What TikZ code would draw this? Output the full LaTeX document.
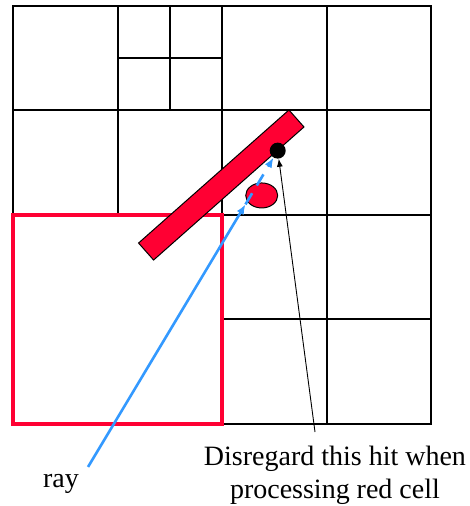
\documentclass[tikz,border=0pt]{standalone}
\usepackage{fontspec}
\setmainfont{Liberation Serif}
\usetikzlibrary{arrows.meta, calc, shapes.geometric}
\definecolor{CellRed}{HTML}{FF0033}
\definecolor{RayBlue}{HTML}{3399FF}

\begin{document}
\begin{tikzpicture}[x=104.5pt, y=104.5pt,
    gridline/.style={line width=2pt, black},
    redcell/.style={line width=3.8pt, CellRed},
    obstacle/.style={draw=black, line width=1pt, fill=CellRed, inner sep=0pt},
    raypath/.style={line width=2.6pt, RayBlue},
    pointer/.style={line width=0.9pt, black, -{Latex[length=8pt, width=6pt]}},
    label/.style={font=\fontsize{28}{33}\selectfont, inner sep=0pt}]
    \useasboundingbox (-0.1244,-0.7847) rectangle (4.3732,4.0574);
    % cells
    \draw[gridline] (0,0) rectangle (4,4);
    \foreach \y in {2,3}
        \draw[gridline] (0,\y) -- (4,\y);
    \draw[gridline] (2,1) -- (4,1);
    \draw[gridline] (1,2) -- (1,4);
    \foreach \x in {2,3}
        \draw[gridline] (\x,0) -- (\x,4);
    \draw[gridline] (1.5,3) -- (1.5,4);
    \draw[gridline] (1,3.5) -- (2,3.5);
    \draw[redcell] (0,0) rectangle (2,2);
    % objects
    \node (bar) [obstacle, rectangle, rotate=41.5, minimum width=200.8pt, minimum height=22.7pt] at (1.993,2.287) {};
    \node (blob) [obstacle, ellipse, minimum width=32pt, minimum height=25pt] at (2.380,2.187) {};
    \node (hit) [circle, fill=black, inner sep=0pt, minimum size=16pt] at (2.533,2.616) {};
    % ray
    \coordinate (rayo) at (0.718,-0.411);
    \coordinate (enter) at ($(rayo)!0.83!(hit.center)$);
    \draw[raypath, -{Latex[length=10pt, width=8pt]}] (rayo) -- (enter);
    \draw[raypath, dash pattern=on 13pt off 9pt, -{Latex[length=10pt, width=8pt]}] (enter) -- (hit);
    % labels
    \node (raytext) [label, anchor=base] at (0.459,-0.603) {ray};
    \node (note) [label, align=center, anchor=north] at (3.081,-0.2105)
        {Disregard this hit when\\processing red cell};
    \coordinate (tail) at (2.890,-0.0766);
    \draw[pointer] (tail) -- (hit);
\end{tikzpicture}
\end{document}
